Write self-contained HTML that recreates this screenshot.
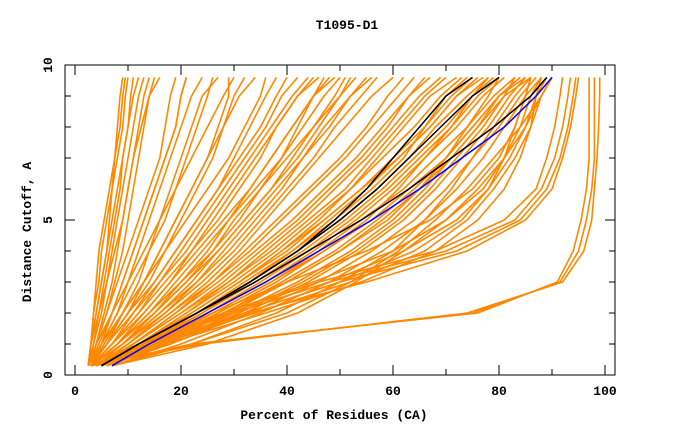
<!DOCTYPE html>
<html><head><meta charset="utf-8"><style>
body{margin:0;background:#fff;}
svg text{font-family:"Liberation Mono",monospace;font-weight:bold;fill:#000;}
</style></head><body>
<svg id="chart" width="680" height="440" xmlns="http://www.w3.org/2000/svg">
<text x="347" y="29" font-size="13" text-anchor="middle">T1095-D1</text>
<g id="lines"></g>
<rect x="65" y="65" width="550" height="310" fill="none" stroke="#000" stroke-width="1"/>
<g id="ticks"></g>
<text x="334" y="419" font-size="13" text-anchor="middle">Percent of Residues (CA)</text>
<text x="31" y="232" font-size="13" text-anchor="middle" transform="rotate(-90 31 232)">Distance Cutoff, A</text>
</svg>
<script>
const cutoffs=[0.3,1,2,3,4,5,6,7,8,9,9.6];
const xTicks=[0,20,40,60,80,100];
const yTicks=[0,5,10];
const orangeSeries=[
[2.5,3,4,5,6,7,8,9,10,11,12],
[2.5,3.5,5,6,7,8,9,10,11,12,13],
[2.5,4,5.5,7,8,9,10,11,12,13,14],
[2.5,3,4.5,6,7.5,9,10,11,12.5,14,15],
[2.5,4,6,7.5,9,10,11,12,13,14,16],
[2.5,3,4,5,6,6.5,7,7.5,8,8.5,9],
[2.5,3.5,4.5,5.5,6.5,7.5,8.5,9,10,10.5,11],
[2.5,3,3.5,4.5,5,6,7,8,9,9.5,10],
[2.5,3,3.5,4,4.5,5.5,6.5,7.5,8.5,9,9.5],
[2.5,4,6,8,10,12,14,16,17,18,19],
[2.5,4.5,7,9,11,13,15,17,19,20,21],
[2.5,5,8,10,12,14,16,18,20,22,24],
[2.5,5,8,11,14,16,18,20,22,24,27],
[2.5,4,7,10,13,16,19,22,25,28,30],
[3,6,10,14,17,20,23,26,28,30,32],
[3,5,9,12,14,17,19,21,23,25,26],
[3,5,7,9,11,13,15,17,19,20,21],
[3,5.5,9,13,16,19,22,25,27,29,29],
[3,6,10,13,16,19,22,25,28,31,34],
[3,6,10,15,19,23,27,31,35,38,40],
[3,6,11,16,21,25,29,33,37,41,44],
[3,7,12,17,22,27,31,35,38,42,45],
[3,7,13,18,23,28,33,37,41,45,48],
[3,8,14,19,24,29,34,39,43,47,50],
[3,8,14,20,26,31,35,39,42,45,47],
[3,8,15,21,27,32,37,42,46,50,52],
[3,9,16,23,29,34,39,43,47,52,55],
[3,9,17,24,30,35,40,45,49,54,57],
[4,10,18,25,31,36,41,46,51,56,60],
[3,9,15,21,26,30,35,40,45,50,53],
[4,10,17,23,28,33,38,43,48,52,56],
[3,7,11,15,19,23,27,30,33,36,38],
[3,6,9,13,17,21,25,29,32,35,36],
[3,7,12,16,20,24,28,32,36,39,42],
[3,8,13,18,22,26,30,34,38,42,46],
[3,9,15,20,25,29,33,37,41,45,49],
[4,9,16,22,27,32,37,41,45,49,51],
[4,10,18,26,33,39,45,51,56,61,64],
[4,11,19,27,34,41,47,53,58,63,67],
[4,11,20,29,37,44,51,56,61,66,70],
[4,12,21,30,38,45,52,57,62,67,72],
[5,12,22,31,39,46,52,58,64,69,73],
[4,12,22,31,40,47,54,60,66,71,75],
[5,13,23,32,41,48,55,61,67,72,76],
[5,13,24,33,42,50,57,63,68,74,78],
[5,14,25,35,44,52,59,65,71,76,80],
[5,14,25,36,45,53,60,66,72,77,81],
[5,15,26,37,46,54,62,68,74,79,83],
[6,15,27,38,47,56,63,70,75,80,85],
[5,14,24,34,43,51,58,64,70,75,79],
[5,13,22,31,39,47,54,61,67,72,77],
[6,16,28,39,49,57,64,70,75,80,84],
[6,16,29,40,50,58,65,71,76,81,86],
[5,15,28,40,50,59,65,70,74,78,80],
[6,17,30,42,52,60,66,71,76,80,84],
[6,18,32,44,54,62,68,73,78,82,85],
[4,11,19,26,32,38,44,50,55,59,62],
[4,11,20,28,35,42,48,54,59,63,66],
[4,12,21,29,36,43,49,55,60,65,69],
[5,13,23,33,41,49,56,62,66,70,74],
[5,14,26,37,47,55,61,66,71,75,78],
[6,17,31,43,53,61,67,72,77,81,83],
[6,18,33,46,56,64,70,75,80,84,87],
[7,20,35,48,58,66,71,75,79,83,86],
[7,22,38,50,60,66,72,77,81,85,88],
[7,22,40,52,61,68,74,79,84,88,90],
[7,25,42,53,62,70,76,81,85,88,90],
[4,16,34,52,66,74,79,83,86,88,90],
[4,14,30,48,62,72,78,82,85,87,89],
[4,13,28,45,60,70,77,81,84,86,88],
[3,12,26,40,55,67,75,80,83,85,86],
[4,15,32,50,64,73,78,81,83,85,86],
[4,17,36,54,68,76,81,84,86,87,88],
[3,13,30,48,70,83,88,90.5,92,93,93.5],
[3,14,32,50,72,84,89,91.5,93,94,94.5],
[3,12,29,46,68,81,87,89,90.5,91.5,92],
[3,15,33,55,74,85,90,92,93.5,94.5,95],
[3,22,76,91,94,95.5,96.5,97,97,97,97],
[3,24,74,92,96,97.5,98,98.5,98.8,99,99],
[3,23,75,91.5,95,96.5,97.5,98,98,98,98]
];
const blackSeries=[
[5,12,23,33,42,49,55,60,65,70,75],
[5,12,23,33,42,50,57,63,69,75,80],
[5,12,23,34,44,54,63,71,79,86,89]
];
const blueSeries=[7,14,25,36,46,56,65,73,81,87,90];

const X=v=>75+5.3*v, Y=v=>375-31*v;
const NS="http://www.w3.org/2000/svg";
const g=document.getElementById('lines');
function draw(vals,color,w,name){
  const p=document.createElementNS(NS,'polyline');
  p.setAttribute('points',vals.map((v,i)=>X(v)+','+Y(cutoffs[i])).join(' '));
  p.setAttribute('fill','none');
  p.setAttribute('stroke',color);
  p.setAttribute('stroke-width',w);
  p.setAttribute('stroke-linejoin','round');
  
  
  g.appendChild(p);
}
orangeSeries.forEach(s=>draw(s,'#ff8800',1.6,'model-line'));
blackSeries.forEach(s=>draw(s,'#000000',1.5,'reference-line'));
draw(blueSeries,'#0000ff',1.5,'highlight-line');

const t=document.getElementById('ticks');
function line(x1,y1,x2,y2){
  const l=document.createElementNS(NS,'line');
  l.setAttribute('x1',x1);l.setAttribute('y1',y1);
  l.setAttribute('x2',x2);l.setAttribute('y2',y2);
  l.setAttribute('stroke','#000');
  
  
  t.appendChild(l);
}
for(let v=0;v<=100;v+=10){const L=v%20===0?10:6;line(X(v),375,X(v),375-L);line(X(v),65,X(v),65+L);}
for(let v=0;v<=10;v++){const L=v%5===0?10:6;line(65,Y(v),65+L,Y(v));line(615,Y(v),615-L,Y(v));}
xTicks.forEach(v=>{
  const e=document.createElementNS(NS,'text');
  e.setAttribute('x',X(v));e.setAttribute('y',395);
  e.setAttribute('font-size','13');e.setAttribute('text-anchor','middle');
  e.textContent=String(v);
  
  
  t.appendChild(e);
});
yTicks.forEach(v=>{
  const e=document.createElementNS(NS,'text');
  e.setAttribute('font-size','13');e.setAttribute('text-anchor','middle');
  e.setAttribute('transform','translate(52 '+Y(v)+') rotate(-90)');
  e.textContent=String(v);
  
  
  t.appendChild(e);
});
</script>
</body></html>
